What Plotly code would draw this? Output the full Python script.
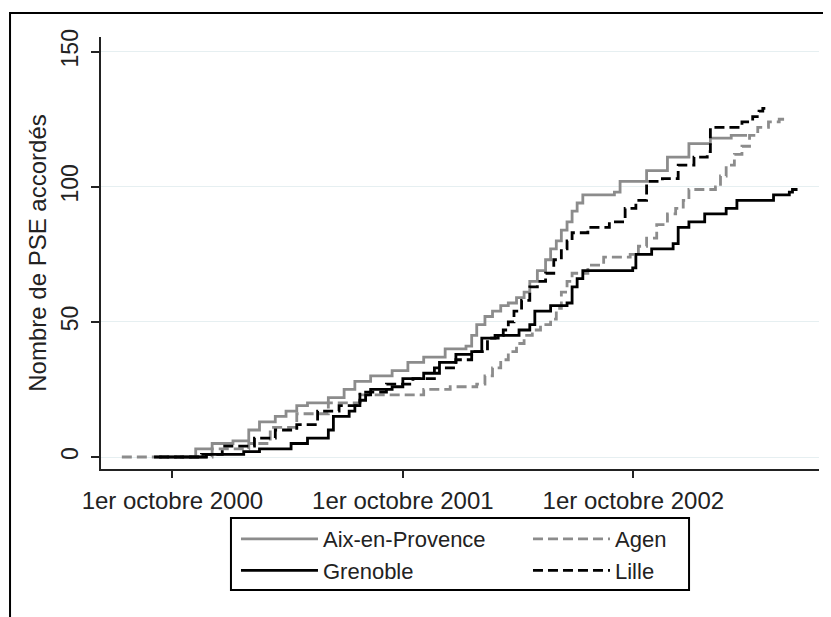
import plotly.graph_objects as go

# Nombre cumulé de PSE accordés, par juridiction
aix_dates = ['2000-10-13', '2000-11-07', '2000-12-03', '2001-01-05', '2001-01-30',
             '2001-02-16', '2001-03-13', '2001-03-30', '2001-04-16', '2001-05-03',
             '2001-06-05', '2001-06-30', '2001-07-17', '2001-08-11', '2001-09-14',
             '2001-10-09', '2001-11-03', '2001-12-07', '2002-01-09', '2002-01-18',
             '2002-01-26', '2002-02-08', '2002-02-20', '2002-03-05', '2002-03-17',
             '2002-03-30', '2002-04-11', '2002-04-20', '2002-05-02', '2002-05-15',
             '2002-05-23', '2002-06-01', '2002-06-09', '2002-06-18', '2002-06-26',
             '2002-07-04', '2002-07-13', '2002-09-01', '2002-09-10', '2002-10-22',
             '2002-11-24', '2002-12-28', '2003-01-31', '2003-03-05', '2003-03-30']
aix_counts = [0, 3, 5, 6, 10,
              13, 15, 17, 19, 20,
              22, 25, 28, 30, 32,
              35, 37, 40, 41, 45,
              49, 52, 54, 56, 57,
              59, 61, 65, 69, 73,
              77, 80, 84, 87, 91,
              94, 97, 98, 102, 106,
              111, 116, 118, 119, 119]

agen_dates = ['2000-07-13', '2000-12-03', '2001-01-30', '2001-03-05', '2001-04-16',
              '2001-06-05', '2001-07-25', '2001-11-03', '2001-12-15', '2002-01-26',
              '2002-02-08', '2002-02-20', '2002-03-05', '2002-03-17', '2002-03-30',
              '2002-04-11', '2002-04-24', '2002-05-07', '2002-05-23', '2002-06-01',
              '2002-06-09', '2002-06-18', '2002-06-26', '2002-07-21', '2002-08-15',
              '2002-09-26', '2002-10-09', '2002-10-22', '2002-11-07', '2002-11-24',
              '2002-12-07', '2002-12-19', '2002-12-28', '2003-02-08', '2003-02-16',
              '2003-02-25', '2003-03-10', '2003-03-22', '2003-04-03', '2003-04-16',
              '2003-05-03', '2003-05-20', '2003-06-01']
agen_counts = [0, 3, 5, 11, 16,
               20, 23, 25, 26, 27,
               30, 33, 36, 39, 42,
               45, 47, 49, 51, 55,
               61, 65, 68, 71, 74,
               75, 78, 81, 86, 90,
               92, 95, 99, 100, 104,
               108, 112, 115, 119, 122,
               124, 125, 125]

grenoble_dates = ['2000-09-02', '2000-11-24', '2001-01-22', '2001-02-16', '2001-04-07',
                  '2001-05-03', '2001-06-05', '2001-06-13', '2001-07-08', '2001-07-17',
                  '2001-07-25', '2001-08-03', '2001-08-11', '2001-09-14', '2001-10-01',
                  '2001-11-03', '2001-11-28', '2001-12-24', '2002-01-18', '2002-02-03',
                  '2002-03-01', '2002-04-03', '2002-04-20', '2002-04-28', '2002-05-23',
                  '2002-06-18', '2002-06-26', '2002-07-04', '2002-07-13', '2002-09-30',
                  '2002-10-05', '2002-10-30', '2002-12-03', '2002-12-11', '2002-12-28',
                  '2003-01-22', '2003-02-25', '2003-03-14', '2003-05-11', '2003-06-05',
                  '2003-06-10', '2003-06-18']
grenoble_counts = [0, 1, 2, 3, 5,
                   7, 10, 15, 17, 19,
                   21, 23, 25, 26, 29,
                   31, 35, 38, 39, 44,
                   45, 47, 49, 54, 56,
                   57, 63, 66, 69, 70,
                   75, 77, 79, 85, 87,
                   90, 92, 95, 97, 98,
                   99, 99]

lille_dates = ['2000-09-10', '2000-11-16', '2000-12-19', '2001-02-08', '2001-03-13',
               '2001-04-16', '2001-05-19', '2001-06-22', '2001-07-25', '2001-09-05',
               '2001-10-17', '2001-11-20', '2001-12-24', '2002-01-18', '2002-02-12',
               '2002-02-24', '2002-03-09', '2002-03-17', '2002-03-26', '2002-04-07',
               '2002-04-20', '2002-05-02', '2002-05-15', '2002-05-28', '2002-06-09',
               '2002-06-18', '2002-06-26', '2002-07-21', '2002-08-24', '2002-09-18',
               '2002-10-05', '2002-10-22', '2002-11-16', '2002-12-11', '2003-01-05',
               '2003-01-26', '2003-01-31', '2003-03-22', '2003-04-08', '2003-04-18',
               '2003-04-24', '2003-04-28']
lille_counts = [0, 1, 4, 7, 10,
                12, 17, 19, 24, 27,
                29, 33, 36, 39, 44,
                45, 47, 50, 54, 58,
                63, 65, 68, 73, 77,
                80, 83, 85, 87, 92,
                95, 102, 103, 108, 111,
                113, 122, 124, 126, 128,
                129, 129]

tick_dates = ['2000-10-01', '2001-10-01', '2002-10-01']
tick_labels = ['1er octobre 2000', '1er octobre 2001', '1er octobre 2002']
y_ticks = [0, 50, 100, 150]

GRAY = '#8c8c8c'
INK = '#222222'
FONT = 'Liberation Sans, Arial, sans-serif'

# two legend columns: (name, x, y, colour, dash, legend)
series = [
    ('Aix-en-Provence', aix_dates, aix_counts, GRAY, 'solid', 'legend'),
    ('Agen', agen_dates, agen_counts, GRAY, '10px,5px', 'legend2'),
    ('Grenoble', grenoble_dates, grenoble_counts, 'black', 'solid', 'legend'),
    ('Lille', lille_dates, lille_counts, 'black', '10px,5px', 'legend2'),
]

fig = go.Figure()
for name, x, y, color, dash, leg in series:
    fig.add_trace(go.Scatter(
        x=x, y=y, name=name, mode='lines', legend=leg,
        line=dict(color=color, width=2.8, dash=dash, shape='hv'),
    ))

legend_style = dict(
    orientation='v', xanchor='left', y=-0.1134, yanchor='top',
    borderwidth=0, bgcolor='rgba(0,0,0,0)',
    font=dict(size=22, color=INK), itemwidth=77, tracegroupgap=0,
)

# the page adds an 8px body margin, so the figure is 8px smaller than the window
fig.update_layout(
    width=823, height=609,
    margin=dict(l=93, r=12, t=29, b=148),
    paper_bgcolor='white', plot_bgcolor='white',
    font=dict(family=FONT, color=INK, size=22),
    showlegend=True,
    legend=dict(x=0.188, **legend_style),
    legend2=dict(x=0.5947, **legend_style),
    shapes=[
        # cadre extérieur (coupé à droite et en bas comme sur l'original)
        dict(type='rect', xref='paper', yref='paper',
             x0=-0.1267, x1=1.05, y0=-0.40, y1=1.0556,
             line=dict(color='black', width=2), layer='below'),
        # cadre de la légende
        dict(type='rect', xref='paper', yref='paper',
             x0=0.181, x1=0.819, y0=-0.280, y1=-0.1134,
             line=dict(color='black', width=2), layer='below'),
    ],
)

fig.update_xaxes(
    range=['2000-06-10', '2003-07-22'],
    tickvals=tick_dates, ticktext=tick_labels,
    ticks='outside', ticklen=7, tickwidth=1.5, tickcolor=INK,
    showline=True, linecolor=INK, linewidth=2,
    showgrid=False, zeroline=False,
    tickfont=dict(size=24, color=INK), ticklabelstandoff=2,
    automargin=False,
)
fig.update_yaxes(
    range=[-4.44, 155.44],
    tickvals=y_ticks,
    ticks='outside', ticklen=8, tickwidth=1.5, tickcolor=INK,
    tickangle=-90, ticklabelstandoff=4,
    showline=True, linecolor=INK, linewidth=2,
    showgrid=True, gridcolor='#e6eff1', gridwidth=1.2,
    zeroline=False,
    tickfont=dict(size=23, color=INK),
    title=dict(text='Nombre de PSE accordés', font=dict(size=24, color=INK), standoff=3),
    automargin=False,
)

fig.write_html("out.html")
